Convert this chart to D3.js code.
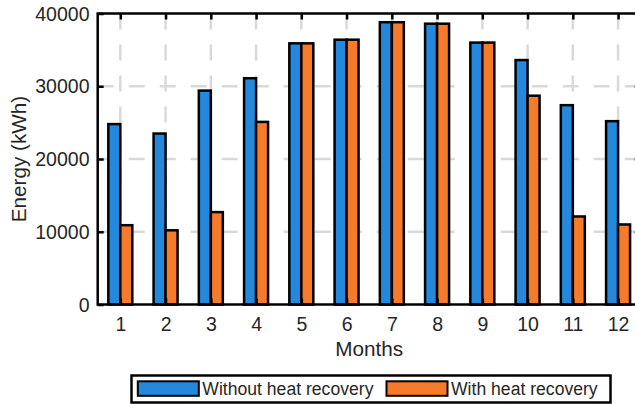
<!DOCTYPE html>
<html>
<head>
<meta charset="utf-8">
<script src="https://cdn.jsdelivr.net/npm/d3@7"></script>
<style>
  body { margin: 0; background: #fff; }
  text { font-family: "Liberation Sans", Arial, sans-serif; fill: #262626; }
</style>
</head>
<body>
<div id="chart"></div>
<script>
// monthly energy (kWh)
var months = [1, 2, 3, 4, 5, 6, 7, 8, 9, 10, 11, 12];
var withoutRecovery = [24800, 23500, 29400, 31100, 35900, 36400, 38800, 38600, 36000, 33600, 27400, 25200];
var withRecovery = [10900, 10200, 12700, 25100, 35900, 36400, 38800, 38600, 36000, 28700, 12100, 11000];
var yTicks = [0, 10000, 20000, 30000, 40000];
var seriesNames = ["Without heat recovery", "With heat recovery"];
var colours = ["#2489dc", "#f57b2a"];

var w = 635, h = 404;

// the right hand side of the axes box falls just outside the picture
var xScale = d3.scaleLinear().domain([0.5, 12.5]).range([97.7, 640.7]);
var yScale = d3.scaleLinear().domain([0, 40000]).range([304.5, 13.5]);
var sub = d3.scaleBand().domain(seriesNames).range([-12, 12]); // offset of each bar inside a month

var svg = d3.select("#chart").append("svg")
    .attr("width", w)
    .attr("height", h);

var x0 = xScale(0.5), x1 = xScale(12.5), yTop = yScale(40000), yBot = yScale(0);

// dashed grid, under the bars
var grid = svg.append("g")
    .attr("stroke", "#d9d9d9")
    .attr("stroke-width", 2.5)
    .attr("stroke-dasharray", "16,15");
grid.selectAll(".vg").data(months).enter().append("line")
    .attr("x1", function(d) { return xScale(d); })
    .attr("x2", function(d) { return xScale(d); })
    .attr("y1", yTop)
    .attr("y2", yBot);
grid.selectAll(".hg").data(yTicks.slice(1, -1)).enter().append("line")
    .attr("x1", x0)
    .attr("x2", x1)
    .attr("y1", function(d) { return yScale(d); })
    .attr("y2", function(d) { return yScale(d); });

// bars, two per month
var rows = months.map(function(m, i) {
    return [
        { month: m, name: seriesNames[0], value: withoutRecovery[i], c: colours[0] },
        { month: m, name: seriesNames[1], value: withRecovery[i], c: colours[1] }
    ];
});
svg.append("g").selectAll("g").data(rows).enter().append("g")
    .selectAll("rect").data(function(d) { return d; }).enter().append("rect")
    .attr("x", function(d) { return xScale(d.month) + sub(d.name); })
    .attr("y", function(d) { return yScale(d.value); })
    .attr("width", sub.bandwidth())
    .attr("height", function(d) { return yBot - yScale(d.value); })
    .attr("fill", function(d) { return d.c; })
    .attr("stroke", "#000")
    .attr("stroke-width", 2.5);

// axes: inward ticks all round, labels only bottom and left
var xAxis = d3.axisBottom(xScale).tickValues(months).tickSize(-6).tickSizeOuter(0).tickPadding(12.2);
var yAxis = d3.axisLeft(yScale).tickValues(yTicks).tickFormat(d3.format("d"))
    .tickSize(-6).tickSizeOuter(0).tickPadding(8.2);

var gx = svg.append("g").attr("transform", "translate(0," + yBot + ")").call(xAxis);
var gy = svg.append("g").attr("transform", "translate(" + x0 + ",0)").call(yAxis);
svg.append("g").attr("transform", "translate(0," + yTop + ")")
    .call(d3.axisTop(xScale).tickValues(months).tickSize(-6).tickSizeOuter(0).tickFormat(""));
svg.append("g").attr("transform", "translate(" + x1 + ",0)")
    .call(d3.axisRight(yScale).tickValues(yTicks).tickSize(-6).tickSizeOuter(0).tickFormat(""));

svg.selectAll(".domain").remove();
svg.selectAll(".tick line").attr("stroke", "#000").attr("stroke-width", 2.5);
svg.selectAll(".tick text").attr("font-size", "19.5px").attr("font-family", null).style("fill", "#262626");
gy.selectAll(".tick text").attr("dy", "0.34em");

// box round the plot
svg.append("rect")
    .attr("x", x0).attr("y", yTop)
    .attr("width", x1 - x0).attr("height", yBot - yTop)
    .attr("fill", "none")
    .attr("stroke", "#000")
    .attr("stroke-width", 2.5);

// axis titles
svg.append("text")
    .attr("x", (x0 + x1) / 2)
    .attr("y", 355.5)
    .attr("text-anchor", "middle")
    .attr("font-size", "20.7px")
    .text("Months");

svg.append("text")
    .attr("transform", "translate(25.5," + (yTop + yBot) / 2 + ") rotate(-90)")
    .attr("text-anchor", "middle")
    .attr("font-size", "20.7px")
    .text("Energy (kWh)");

// legend at the bottom
var legend = svg.append("g");
legend.append("rect")
    .attr("x", 131.5).attr("y", 375.5)
    .attr("width", 479).attr("height", 27)
    .attr("fill", "#fff")
    .attr("stroke", "#000")
    .attr("stroke-width", 2.5);

var legX = [137.8, 386.5]; // where each swatch starts
seriesNames.forEach(function(name, i) {
    legend.append("rect")
        .attr("x", legX[i]).attr("y", 381.3)
        .attr("width", 61).attr("height", 14.5)
        .attr("fill", colours[i])
        .attr("stroke", "#000")
        .attr("stroke-width", 2);
    legend.append("text")
        .attr("x", legX[i] + 64.5)
        .attr("y", 395)
        .attr("font-size", "17.6px")
        .text(name);
});
</script>
</body>
</html>
